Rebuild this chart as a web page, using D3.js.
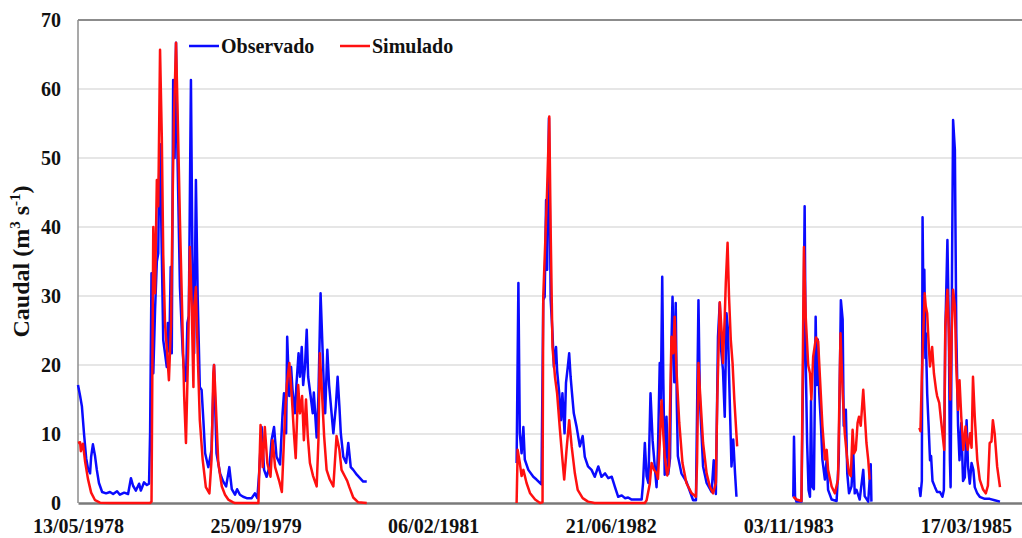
<!DOCTYPE html>
<html>
<head>
<meta charset="utf-8">
<script src="https://cdn.jsdelivr.net/npm/d3@7"></script>
<style>
  html, body { margin: 0; padding: 0; background: #fff; }
  svg { display: block; }
  text { font-family: "Liberation Serif", "Times New Roman", serif; font-weight: bold; fill: #111; }
</style>
</head>
<body>
<svg id="chart" width="1022" height="538"></svg>
<script>
// Caudal diário observado vs. simulado; dias contados a partir de 13/05/1978
const inicio = new Date(Date.UTC(1978, 4, 13));
const diasTicks = [0, 500, 1000, 1500, 2000, 2500];
const caudalTicks = [0, 10, 20, 30, 40, 50, 60, 70];
const nomes = ["Observado", "Simulado"];
const cores = ["#0a0aff", "#ff1010"];

// [dia, caudal m3/s]
const obs1978 = [[0,17.1],[6,15.5],[11,14.0],[17,10.0],[23,6.5],[28,5.0],[34,4.3],[37,6.7],[42,8.5],[48,6.8],[53,4.8],[59,2.9],[68,1.6],[79,1.4],[90,1.6],[99,1.3],[110,1.7],[118,1.2],[130,1.5],[141,1.3],[149,3.6],[155,2.5],[163,1.8],[172,2.8],[177,1.8],[186,3.0],[194,2.6],[200,2.8],[203,10.1],[207,33.3],[212,18.8],[217,28],[222,35],[226,36.2],[228,46.4],[231,52],[236,36],[240,23.6],[245,21.7],[250,19.7],[253,26.1],[257,22],[261,34.2],[264,21.7],[268,61.3],[272,50],[276,66.7],[280,50.7],[287,31.3],[295,21.7],[298,19.7],[304,17.7],[308,26.1],[312,27.1],[318,61.3],[322,36],[327,21.7],[332,46.8],[337,29.9],[343,16.8],[348,16.4],[353,12],[358,7.2],[362,6.3],[367,5.2],[376,7.7],[383,20],[390,7.2],[400,4.3],[409,3.1],[417,2.4],[426,5.2],[433,2.0],[442,1.2],[448,2.0],[456,1.2],[465,0.9],[475,0.7],[489,0.7],[498,1.4],[505,0.7],[510,4.3],[517,11],[524,4.8],[531,3.8],[539,5.2],[545,9.1],[552,11],[559,6.7],[569,5.6],[576,13],[580,15.9],[586,10.1],[589,24.1],[595,15.5],[600,19.7],[604,16.4],[611,13],[615,17.1],[621,21.7],[625,18.3],[630,22.6],[634,17.1],[639,19.7],[644,25.1],[648,18.3],[655,15.5],[661,13],[664,16],[672,9.5],[677,15.5],[683,30.4],[689,21.7],[693,15.5],[696,13],[702,22.2],[707,17.1],[714,13],[719,10.1],[726,14],[731,18.3],[736,14],[740,10.1],[747,6.7],[755,5.8],[761,8.7],[768,5.2],[775,4.8],[785,4.1],[794,3.6],[803,3.1],[813,3.1]];
const obs1982 = [[1235,5.8],[1240,31.9],[1244,10.1],[1249,7.2],[1254,11],[1258,6.3],[1268,4.8],[1282,3.8],[1291,3.4],[1301,2.9],[1305,2.7],[1310,29.4],[1314,29.9],[1318,43.9],[1321,33.8],[1326,55.8],[1331,29.4],[1336,24.6],[1340,19.7],[1346,22.6],[1349,19.2],[1355,15.9],[1360,12],[1364,15.9],[1370,10.1],[1374,17.4],[1379,19.7],[1383,21.7],[1387,18.3],[1391,15.9],[1396,13],[1404,11],[1413,8.2],[1421,9.7],[1427,6.7],[1436,5.3],[1446,4.8],[1455,3.8],[1465,5.3],[1474,3.8],[1484,4.3],[1493,3.6],[1503,3.8],[1512,2.3],[1521,0.9],[1531,1.1],[1540,0.7],[1549,0.8],[1559,0.5],[1587,0.5],[1591,2.9],[1596,8.7],[1601,3.9],[1606,2.9],[1612,15.9],[1618,9],[1624,5.3],[1629,2.3],[1633,7.7],[1638,20.3],[1641,15],[1645,32.8],[1648,18],[1652,4.1],[1657,12.5],[1662,4.2],[1667,6.5],[1671,23.2],[1674,29.9],[1679,17.5],[1683,29],[1686,14.5],[1689,6.8],[1699,4.3],[1713,3.1],[1732,0.4],[1740,0.4],[1747,29.4],[1751,15],[1760,5.3],[1770,2.9],[1784,1.6],[1790,6.2],[1796,1.3],[1802,24.1],[1807,29],[1811,22.1],[1816,19.3],[1821,12.5],[1826,27.5],[1830,25.1],[1835,15],[1840,5.3],[1845,9.2],[1850,4.3],[1854,0.9]];
const obs1983 = [[2014,0.9],[2016,9.6],[2019,0.9],[2023,0.2],[2037,0.2],[2042,20.7],[2046,43],[2049,20.7],[2053,8.7],[2057,1.9],[2061,0.9],[2064,14.9],[2067,2.4],[2072,2],[2077,27],[2080,17.1],[2083,23.7],[2087,16],[2092,11.2],[2096,6.3],[2103,3.4],[2108,6.3],[2112,1.9],[2122,0.5],[2136,0.3],[2142,6.3],[2148,29.4],[2153,26.6],[2156,11.2],[2162,13.5],[2166,4.3],[2171,1.4],[2178,2.4],[2183,7.2],[2187,1.4],[2192,1.9],[2201,0.5],[2211,4.8],[2215,1],[2225,0.2],[2232,5.6],[2234,0.2]];
const obs1985 = [[2369,2.3],[2372,1],[2376,3.2],[2378,41.4],[2381,26.1],[2383,33.8],[2386,21],[2387,24.6],[2391,15.9],[2395,11.2],[2399,6.2],[2402,6.8],[2406,3.2],[2413,2.3],[2419,1.6],[2427,1.6],[2434,0.9],[2438,1.9],[2442,24.6],[2448,38.1],[2452,25.6],[2455,6.2],[2457,2.3],[2461,34.3],[2464,55.5],[2469,51.2],[2473,24.6],[2478,11.2],[2482,6.2],[2487,11.6],[2492,3.2],[2497,3.7],[2502,12],[2506,5.3],[2511,2.8],[2516,5.8],[2521,4.8],[2525,2.3],[2532,1.4],[2539,0.9],[2553,0.6],[2567,0.6],[2581,0.4],[2596,0.2]];

const sim1978 = [[0,8.7],[6,8.8],[8,7.5],[14,8.6],[20,6.0],[28,3.5],[37,1.5],[48,0.4],[62,0.05],[90,0],[203,0],[207,0.2],[212,40],[217,30.4],[222,46.8],[226,43],[231,65.7],[236,53],[240,36],[245,26],[251,21.7],[256,17.8],[262,26],[267,45.8],[270,55.5],[276,66.7],[281,55.5],[287,41],[295,24],[299,15.4],[304,8.7],[310,21.7],[315,37.1],[320,28.8],[325,16.8],[327,28.3],[332,31.3],[337,21.7],[343,12],[351,6.3],[360,2.3],[370,1.4],[376,6.3],[381,18.8],[383,20],[386,16.8],[395,5.8],[405,2.4],[414,1.2],[423,0.5],[437,0.1],[442,0],[508,0],[514,11.3],[520,5.2],[526,11],[533,5.8],[542,3.8],[548,9.1],[555,5.2],[567,3.1],[574,1.6],[583,13],[588,17.1],[595,20.3],[602,15.5],[608,10.1],[613,6.5],[620,17.1],[625,13],[631,15.5],[636,9.1],[642,15],[647,9.7],[653,5.8],[662,3.9],[672,2.4],[677,9.1],[681,21.7],[687,16],[693,9.7],[700,4.8],[709,3.4],[719,2.4],[728,9.7],[736,7.7],[742,4.8],[752,3.8],[758,3.2],[764,2.3],[775,0.8],[789,0.1],[813,0]];
const sim1982 = [[1235,0],[1238,7.7],[1244,5.8],[1249,3.9],[1254,4.8],[1263,2.9],[1273,1.4],[1287,0.5],[1301,0],[1308,0.1],[1310,29.9],[1320,43.9],[1327,56],[1331,39],[1336,22.6],[1343,18.3],[1349,15.9],[1357,10.6],[1364,6.3],[1369,3.4],[1376,8],[1383,12],[1390,8.2],[1399,4.3],[1407,1.9],[1421,0.7],[1436,0.2],[1455,0],[1596,0],[1601,0.4],[1610,2.8],[1615,5.8],[1622,4.8],[1629,4.3],[1633,3.5],[1638,8.7],[1643,14.9],[1648,10],[1652,6.8],[1659,4],[1664,5.3],[1668,16.4],[1671,24.1],[1676,21.7],[1680,27],[1685,19.3],[1693,11.6],[1702,5.8],[1713,2.9],[1728,1.4],[1740,0.9],[1743,5.8],[1747,20.3],[1751,16.4],[1760,8.7],[1770,4.3],[1779,2.4],[1788,1.4],[1796,2.9],[1800,15],[1807,29.1],[1812,25.1],[1816,20.3],[1821,27],[1824,31.9],[1829,37.7],[1833,30],[1838,23.7],[1843,20.3],[1848,15],[1852,11.6],[1856,8.2]];
const sim1983 = [[2014,0.9],[2023,0.5],[2037,0.3],[2040,16],[2044,37.1],[2049,27],[2056,20],[2061,18.8],[2065,15],[2070,21.2],[2078,24],[2084,23.4],[2089,18.3],[2096,11.2],[2103,6.3],[2108,7.7],[2112,4.8],[2122,2.4],[2131,1.4],[2140,3.4],[2147,24.6],[2153,16],[2159,10.1],[2166,6.3],[2171,4.3],[2176,3.9],[2181,10.6],[2185,7.2],[2190,7.7],[2195,11.6],[2199,12.5],[2204,11.2],[2211,16.4],[2215,13],[2220,8.7],[2225,6.3],[2229,3.4]];
const sim1985 = [[2369,10.9],[2372,10.4],[2376,18.3],[2380,24.6],[2384,30.4],[2387,28.5],[2391,27.5],[2395,23.2],[2399,19.8],[2405,22.6],[2410,18.8],[2416,16.4],[2419,15.5],[2425,14.5],[2430,12],[2434,10.1],[2439,7.7],[2442,25.6],[2448,30.9],[2452,24.6],[2456,15],[2460,24.6],[2464,30.9],[2469,28.5],[2473,19.8],[2478,13.5],[2482,17.8],[2487,12.5],[2493,7.7],[2499,11.1],[2505,7.7],[2512,10.1],[2516,8],[2520,18.3],[2525,12.5],[2532,6.3],[2539,3.4],[2548,2],[2556,1.4],[2562,2.5],[2567,8.7],[2572,8.9],[2576,12],[2581,10.1],[2588,5.3],[2596,2.3]];

const tramosObs = [obs1978, obs1982, obs1983, obs1985];
const tramosSim = [sim1978, sim1982, sim1983, sim1985];

const svg = d3.select("#chart");
const W = 1022, H = 538;
const m = { top: 20, right: 0, bottom: 35, left: 78 };

const dia = d => d3.utcDay.offset(inicio, d);
const x = d3.scaleUtc()
  .domain([inicio, dia(2658)])
  .range([m.left, W - m.right]);
const y = d3.scaleLinear()
  .domain([0, 70])
  .range([H - m.bottom, m.top]);

// grelha horizontal
svg.append("g").selectAll("line")
  .data(caudalTicks.filter(v => v > 0 && v < 70))
  .join("line")
  .attr("x1", m.left).attr("x2", W)
  .attr("y1", d => y(d)).attr("y2", d => y(d))
  .attr("stroke", "#dedede").attr("stroke-width", 1.5);

// moldura: topo e eixo vertical
svg.append("line").attr("x1", m.left).attr("x2", W).attr("y1", y(70)).attr("y2", y(70))
  .attr("stroke", "#8c8c8c").attr("stroke-width", 2);
svg.append("line").attr("x1", m.left).attr("x2", m.left).attr("y1", y(70)).attr("y2", y(0))
  .attr("stroke", "#8c8c8c").attr("stroke-width", 1.5);

// eixo Y
const eixoY = d3.axisLeft(y).tickValues(caudalTicks).tickSize(0).tickPadding(17);
svg.append("g").attr("transform", `translate(${m.left},0)`).call(eixoY)
  .call(g => g.select(".domain").remove())
  .call(g => g.selectAll("text").attr("font-size", 20)
    .attr("font-family", "Liberation Serif, Times New Roman, serif").attr("font-weight", "bold").attr("fill", "#111"));

// eixo X
const eixoX = d3.axisBottom(x).tickValues(diasTicks.map(dia))
  .tickFormat(d3.utcFormat("%d/%m/%Y")).tickSize(0).tickPadding(16);
svg.append("g").attr("transform", `translate(0,${y(0)})`).call(eixoX)
  .call(g => g.select(".domain").attr("stroke", "#7a7a7a").attr("stroke-width", 2.5))
  .call(g => g.selectAll("text").attr("font-size", 20)
    .attr("font-family", "Liberation Serif, Times New Roman, serif").attr("font-weight", "bold").attr("fill", "#111"));

// séries
const linha = d3.line().x(d => x(dia(d[0]))).y(d => y(d[1])).curve(d3.curveLinear);
[tramosObs, tramosSim].forEach((tramos, i) => {
  svg.append("g").selectAll("path").data(tramos).join("path")
    .attr("d", linha)
    .attr("fill", "none")
    .attr("stroke", cores[i])
    .attr("stroke-width", 2.5)
    .attr("stroke-linejoin", "round");
});

// título do eixo Y
const tit = svg.append("text")
  .attr("transform", `translate(29,${(y(0) + y(70)) / 2}) rotate(-90)`)
  .attr("text-anchor", "middle")
  .attr("font-size", 24);
tit.append("tspan").text("Caudal (m");
tit.append("tspan").attr("font-size", 15).attr("dy", -9).text("3");
tit.append("tspan").attr("dy", 9).text(" s");
tit.append("tspan").attr("font-size", 15).attr("dy", -9).text("-1");
tit.append("tspan").attr("dy", 9).text(")");

// legenda
const leg = svg.append("g");
const legX = [189, 340];
nomes.forEach((n, i) => {
  leg.append("line").attr("x1", legX[i]).attr("x2", legX[i] + 30)
    .attr("y1", 46).attr("y2", 46).attr("stroke", cores[i]).attr("stroke-width", 2.5);
  leg.append("text").attr("x", legX[i] + 32).attr("y", 53).attr("font-size", 20).text(n);
});
</script>
</body>
</html>
